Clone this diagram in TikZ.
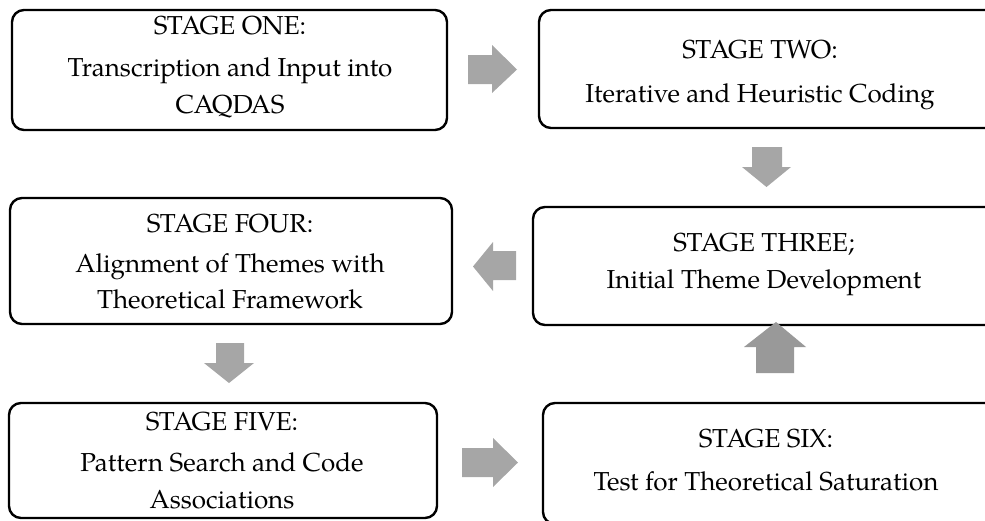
\documentclass[tikz,border=0pt]{standalone}
\usepackage{fontspec}
\setmainfont{TeX Gyre Pagella}
\begin{document}
\begin{tikzpicture}[x=1pt,y=-1pt,
  stagebox/.style={draw=black,line width=2.4pt,rounded corners=12pt},
  txt/.style={anchor=base,inner sep=0pt,font=\fontsize{26}{30}\selectfont},
  blockarrow/.style={fill=arrowgray,draw=none}]
\definecolor{arrowgray}{HTML}{A6A6A6}
\useasboundingbox (0,0) rectangle (985,520);
% boxes
\draw[stagebox] (12,10) rectangle (447,130);
\draw[stagebox] (539,10) rectangle (1000,128);
\draw[stagebox] (533,207) rectangle (1000,325);
\draw[stagebox] (10,198) rectangle (452,324);
\draw[stagebox] (9,403) rectangle (437,518);
\draw[stagebox] (543,403) rectangle (1000,524);
% texts
\node[txt] (s1t) at (230,34) {STAGE ONE:};
\node[txt] (s1a) at (230,76) {Transcription and Input into};
\node[txt] (s1b) at (230,113) {CAQDAS};
\node[txt] (s2t) at (760,58) {STAGE TWO:};
\node[txt] (s2a) at (760,102) {Iterative and Heuristic Coding};
\node[txt] (s3t) at (764,251) {STAGE THREE;};
\node[txt] (s3a) at (764,288) {Initial Theme Development};
\node[txt] (s4t) at (230,232) {STAGE FOUR:};
\node[txt] (s4a) at (230,272) {Alignment of Themes with};
\node[txt] (s4b) at (230,308) {Theoretical Framework};
\node[txt] (s5t) at (222,430) {STAGE FIVE:};
\node[txt] (s5a) at (222,471) {Pattern Search and Code};
\node[txt] (s5b) at (222,508) {Associations};
\node[txt] (s6t) at (766,447) {STAGE SIX:};
\node[txt] (s6a) at (766,490) {Test for Theoretical Saturation};
% block arrows
% one -> two (right)
\fill[blockarrow] (468,55) -- (492,55) -- (492,45) -- (517,69.5) -- (492,93) -- (492,84) -- (468,84) -- cycle;
% two -> three (down)
\fill[blockarrow] (752,147) -- (782,147) -- (782,167) -- (791,167) -- (766.5,187) -- (742,167) -- (752,167) -- cycle;
% three -> four (left)
\fill[blockarrow] (516,251) -- (493,251) -- (493,242) -- (473,266.5) -- (493,291) -- (493,280) -- (516,280) -- cycle;
% four -> five (down)
\fill[blockarrow] (216,343) -- (244,343) -- (244,363) -- (254,363) -- (229,383) -- (204,363) -- (216,363) -- cycle;
% five -> six (right)
\fill[blockarrow] (462,448) -- (493,448) -- (493,438) -- (518,462.5) -- (493,487) -- (493,477) -- (462,477) -- cycle;
% six -> three (up, shaded)
\shade[left color=gray!80,middle color=gray!45,right color=gray!80,shading angle=0]
  (756,373) -- (794,373) -- (794,347) -- (806,347) -- (776,322) -- (744,347) -- (756,347) -- cycle;
\end{tikzpicture}
\end{document}
